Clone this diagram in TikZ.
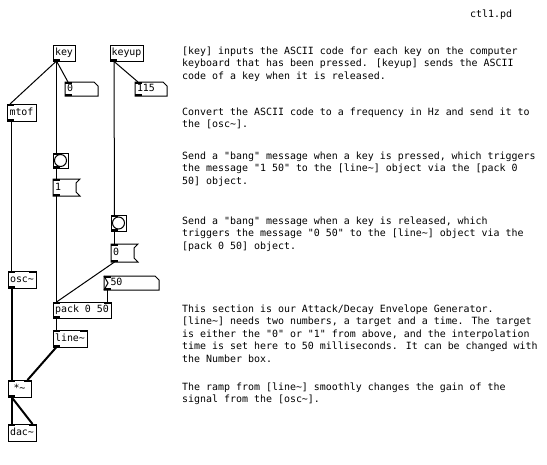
\documentclass[tikz,border=0pt]{standalone}
\usepackage{fontspec}
\newfontfamily\pdfont{DejaVu Sans Mono}
\newcommand\pdtilde{\string~}
\newcommand\pdinl[1]{\fill (#1.north west) rectangle ++(7,2);}
\newcommand\pdinr[1]{\fill (#1.north east) rectangle ++(-7,2);}
\newcommand\pdoutl[1]{\fill (#1.south west) rectangle ++(7,-2);}
\begin{document}
\begin{tikzpicture}[x=1pt,y=-1pt,
  every node/.style={font=\pdfont\fontsize{9.95}{12.5}\selectfont},
  obj/.style={draw=black, line width=1pt, anchor=north west, inner sep=0pt, outer sep=0pt,
    align=center, text height=7.5pt, text depth=2.5pt},
  shapeonly/.style={anchor=north west, inner ysep=0pt, inner xsep=2pt, outer sep=0pt,
    align=left, text height=7.5pt, text depth=2.5pt},
  comment/.style={anchor=base west, inner sep=0pt, align=left},
  ctl/.style={line width=1pt},
  sig/.style={line width=2pt}]

\useasboundingbox (0,0) rectangle (547,464);
\fill[white] (0,0) rectangle (547,464);

% ---------- objects ----------
\node[obj, minimum width=22pt, minimum height=16pt] (key) at (53,45) {key};
\node[obj, minimum width=33pt, minimum height=16pt] (keyup) at (110,45) {keyup};
\node[obj, minimum width=29pt, minimum height=17pt] (mtof) at (7,104) {mtof};
\node[obj, minimum width=28pt, minimum height=17pt] (osc) at (8,271) {osc\pdtilde};
\node[obj, minimum width=58pt, minimum height=16pt] (pack) at (53,302) {pack 0 50};
\node[obj, minimum width=34pt, minimum height=17pt] (line) at (53,330) {line\pdtilde};
\node[obj, minimum width=23pt, minimum height=17pt] (mul) at (8,380) {*\pdtilde};
\node[obj, minimum width=28pt, minimum height=17pt] (dac) at (8,424) {dac\pdtilde};

% bangs
\node[obj, minimum width=15pt, minimum height=15pt] (b1) at (53,153) {};
\draw[ctl] (b1.center) circle (6);
\node[obj, minimum width=15pt, minimum height=16pt] (b2) at (111,215) {};
\draw[ctl] (b2.center) circle (6);

% number boxes
\node[shapeonly, minimum width=33pt, minimum height=14pt, text width=29pt] (n0) at (65,82) {0};
\draw[ctl] (n0.north west) -- ([xshift=-4pt]n0.north east) -- ([yshift=-4pt]n0.north east)
  -- (n0.south east) -- (n0.south west) -- cycle;
\node[shapeonly, minimum width=32pt, minimum height=14pt, text width=28pt] (n115) at (135,82) {115};
\draw[ctl] (n115.north west) -- ([xshift=-4pt]n115.north east) -- ([yshift=-4pt]n115.north east)
  -- (n115.south east) -- (n115.south west) -- cycle;
\node[shapeonly, minimum width=55pt, minimum height=14pt, text width=51pt] (n50) at (104,276) {\hspace*{4.5pt}50};
\draw[ctl] (n50.north west) -- ([xshift=-4pt]n50.north east) -- ([yshift=-4pt]n50.north east)
  -- (n50.south east) -- (n50.south west) -- cycle;
\draw[ctl] (n50.north west) -- ([xshift=4pt]n50.west) -- (n50.south west);

% message boxes
\node[shapeonly, minimum width=23pt, minimum height=17pt, text width=19pt] (m1) at (53,179) {1};
\draw[ctl] (m1.north west) -- ([xshift=4pt]m1.north east) -- ([yshift=-4pt]m1.north east)
  -- ([yshift=4pt]m1.south east) -- ([xshift=4pt]m1.south east) -- (m1.south west) -- cycle;
\node[shapeonly, minimum width=23pt, minimum height=18pt, text width=19pt] (m0) at (111,244) {0};
\draw[ctl] (m0.north west) -- ([xshift=4pt]m0.north east) -- ([yshift=-4pt]m0.north east)
  -- ([yshift=4pt]m0.south east) -- ([xshift=4pt]m0.south east) -- (m0.south west) -- cycle;

% ports
\pdoutl{key} \pdoutl{keyup}
\pdinl{n0} \pdoutl{n0} \pdinl{n115} \pdoutl{n115}
\pdinl{mtof} \pdoutl{mtof}
\pdinl{b1} \pdoutl{b1} \pdinl{b2} \pdoutl{b2}
\pdinl{m1} \pdoutl{m1} \pdinl{m0} \pdoutl{m0}
\pdinl{n50} \pdoutl{n50}
\pdinl{osc} \pdinr{osc} \pdoutl{osc}
\pdinl{pack} \pdinr{pack} \pdoutl{pack}
\pdinl{line} \pdinr{line} \pdoutl{line}
\pdinl{mul} \pdinr{mul} \pdoutl{mul}
\pdinl{dac} \pdinr{dac}

% ---------- connections ----------
\draw[ctl] ([xshift=3.5pt]key.south west) -- ([xshift=3pt]mtof.north west);
\draw[ctl] ([xshift=3.5pt]key.south west) -- ([xshift=3pt]n0.north west);
\draw[ctl] ([xshift=3.5pt]key.south west) -- ([xshift=3.5pt]b1.north west);
\draw[ctl] ([xshift=3.5pt]b1.south west) -- ([xshift=3.5pt]m1.north west);
\draw[ctl] ([xshift=3.5pt]m1.south west) -- ([xshift=3.5pt]pack.north west);
\draw[ctl] ([xshift=3.5pt]keyup.south west) -- ([xshift=3pt]n115.north west);
\draw[ctl] ([xshift=4pt]keyup.south west) -- ([xshift=3.5pt]b2.north west);
\draw[ctl] ([xshift=3.5pt]b2.south west) -- ([xshift=3.5pt]m0.north west);
\draw[ctl] ([xshift=3.5pt]m0.south west) -- ([xshift=3.5pt]pack.north west);
\draw[ctl] ([xshift=3.5pt]n50.south west) -- ([xshift=-3.5pt]pack.north east);
\draw[ctl] ([xshift=3.5pt]pack.south west) -- ([xshift=3.5pt]line.north west);
\draw[ctl] ([xshift=4.5pt]mtof.south west) -- ([xshift=3.5pt]osc.north west);
\draw[sig] ([xshift=3.5pt]osc.south west) -- ([xshift=3.5pt]mul.north west);
\draw[sig] ([xshift=3.5pt]line.south west) -- ([xshift=-3.5pt]mul.north east);
\draw[sig] ([xshift=3.5pt]mul.south west) -- ([xshift=3.5pt]dac.north west);
\draw[sig] ([xshift=3.5pt]mul.south west) -- ([xshift=-3.5pt]dac.north east);

% ---------- comments (anchored at the baseline of their last line) ----------
\node[comment] (title) at (470,17) {ctl1.pd};
\node[comment] (c1) at (182,79) {[key] inputs the ASCII code for each key on the computer\\keyboard that has been pressed. [keyup] sends the ASCII\\code of a key when it is released.};
\node[comment] (c2) at (182,127.5) {Convert the ASCII code to a frequency in Hz and send it to\\the [osc\pdtilde].};
\node[comment] (c3) at (182,184) {Send a "bang" message when a key is pressed, which triggers\\the message "1 50" to the [line\pdtilde] object via the [pack 0\\50] object.};
\node[comment] (c4) at (182,249) {Send a "bang" message when a key is released, which\\triggers the message "0 50" to the [line\pdtilde] object via the\\{}[pack 0 50] object.};
\node[comment] (c5) at (182,362) {This section is our Attack/Decay Envelope Generator.\\{}[line\pdtilde] needs two numbers, a target and a time. The target\\is either the "0" or "1" from above, and the interpolation\\time is set here to 50 milliseconds. It can be changed with\\the Number box.};
\node[comment] (c6) at (182,402.5) {The ramp from [line\pdtilde] smoothly changes the gain of the\\signal from the [osc\pdtilde].};
\end{tikzpicture}
\end{document}
